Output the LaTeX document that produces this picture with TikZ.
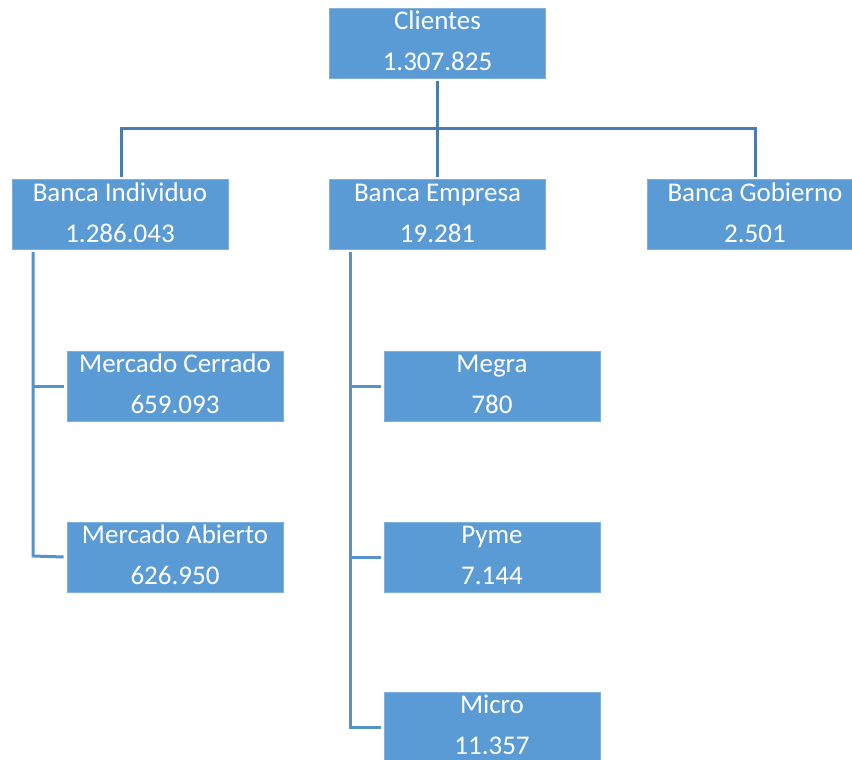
\documentclass[tikz,border=0pt]{standalone}
\usepackage{fontspec}
\setmainfont{Carlito}
\usetikzlibrary{calc}
\definecolor{boxfill}{HTML}{5B9BD5}
\definecolor{boxedge}{HTML}{7FB0DE}
\definecolor{topline}{HTML}{4A7DAE}
\definecolor{subline}{HTML}{5592CE}
\tikzset{
  orgbox/.style={rectangle, fill=boxfill, draw=boxedge, line width=0.8pt, minimum width=216pt, minimum height=70pt, inner sep=0pt},
  boxtext/.style={anchor=base, text=white, font=\fontsize{27}{31}\selectfont, inner sep=0pt},
  conn/.style={line width=3pt, draw=topline},
  subconn/.style={line width=3pt, draw=subline},
}
\newcommand{\orgnode}[5]{%
  \node[orgbox] (#1) at (#2,#3) {};
  \node[boxtext] (#1t1) at ($(#1.north)+(0,22)$) {#4};
  \node[boxtext] (#1t2) at ($(#1.north)+(0,63)$) {#5};
}
\begin{document}
\begin{tikzpicture}[x=1pt,y=-1pt]
\useasboundingbox (0,0) rectangle (852,760);
\clip (0,0) rectangle (852,760);
\fill[white] (0,0) rectangle (852,760);
% connectors
\coordinate (hub) at (437.5,128);
\draw[conn] ($(437.5,81)$) -- (hub);
\draw[conn] (121,177) -- (121,128) -- (755,128) -- (755,177);
\draw[conn] (hub) -- (437.5,177);
% boxes
\orgnode{cl}{437.5}{43}{Clientes}{1.307.825}
\orgnode{bi}{120}{214.5}{Banca Individuo}{1.286.043}
\orgnode{be}{437.5}{214.5}{Banca Empresa}{19.281}
\orgnode{bg}{755}{214.5}{Banca Gobierno}{2.501}
\orgnode{mc}{175}{386}{Mercado Cerrado}{659.093}
\orgnode{ma}{175}{557}{Mercado Abierto}{626.950}
\orgnode{mg}{492}{386}{Megra}{780}
\orgnode{py}{492}{557}{Pyme}{7.144}
\orgnode{mi}{492}{727}{Micro}{11.357}
% sub connectors
\draw[subconn] (33,252) -- (33,556) -- ($(ma.west)+(-3,0)$);
\draw[subconn] (33,386) -- ($(mc.west)+(-3,0)$);
\draw[subconn] (350,252) -- (350,727) -- ($(mi.west)+(-3,0)$);
\draw[subconn] (350,386) -- ($(mg.west)+(-3,0)$);
\draw[subconn] (350,557) -- ($(py.west)+(-3,0)$);
\end{tikzpicture}
\end{document}
